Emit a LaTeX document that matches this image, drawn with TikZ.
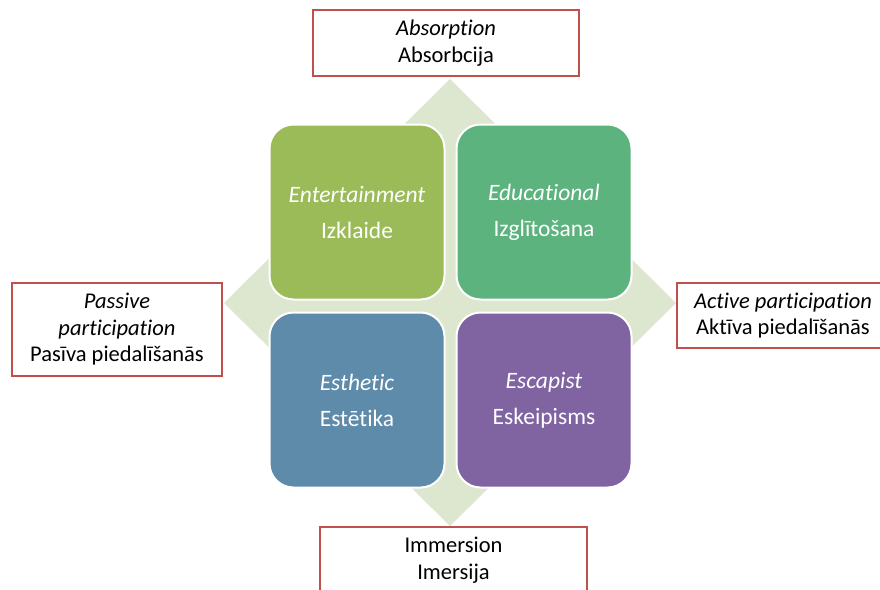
\documentclass[tikz,border=0pt]{standalone}
\usepackage{fontspec}
\setmainfont{Carlito}[Ligatures=NoCommon]
\usetikzlibrary{positioning}

\definecolor{axisgreen}{RGB}{221,231,208}
\definecolor{entgreen}{RGB}{155,187,89}
\definecolor{edugreen}{RGB}{92,179,125}
\definecolor{estblue}{RGB}{94,139,170}
\definecolor{escpurple}{RGB}{128,100,162}
\definecolor{labelred}{RGB}{192,80,77}

\begin{document}
\begin{tikzpicture}[x=1pt,y=-1pt,node distance=188pt,on grid]
  \tikzstyle{quadrant}=[rectangle,rounded corners=24pt,draw=white,line width=2pt,
  			  text=white,minimum width=175pt,minimum height=175pt,
  			  align=center,font=\fontsize{23.5}{36}\selectfont]
  \tikzstyle{axislabel}=[rectangle,draw=labelred,line width=2.5pt,fill=white,
  			  align=center,font=\fontsize{22.5}{26.5}\selectfont]

  \useasboundingbox (0,0) rectangle (880,589);

  % background diamond of the two axes
  \fill[axisgreen] (450,79) -- (676,303) -- (450,526) -- (224,303) -- cycle;

  \node[quadrant,fill=entgreen] (ent) at (357,212) {{\itshape Entertainment}\\Izklaide};
  \node[quadrant,fill=edugreen] (edu) [right=187pt of ent] {{\itshape Educational}\\Izglītošana};
  \node[quadrant,fill=estblue] (est) [below=188pt of ent] {{\itshape Esthetic}\\Estētika};
  \node[quadrant,fill=escpurple] (esc) [right=187pt of est] {{\itshape Escapist}\\Eskeipisms};

  \node[axislabel,minimum width=266pt,minimum height=66pt] (absorb) at (446,43)
    {{\itshape Absorption}\\Absorbcija};
  \node[axislabel,minimum width=210pt,minimum height=93pt] (passive) at (117,329.5)
    {{\itshape Passive}\\{\itshape participation}\\Pasīva piedalīšanās};
  \node[axislabel,minimum width=212pt,minimum height=65pt] (active) at (783,315.5)
    {{\itshape Active participation}\\Aktīva piedalīšanās};
  \node[axislabel,minimum width=267pt,minimum height=66pt] (immerse) at (453.5,560)
    {Immersion\\Imersija};
\end{tikzpicture}
\end{document}
